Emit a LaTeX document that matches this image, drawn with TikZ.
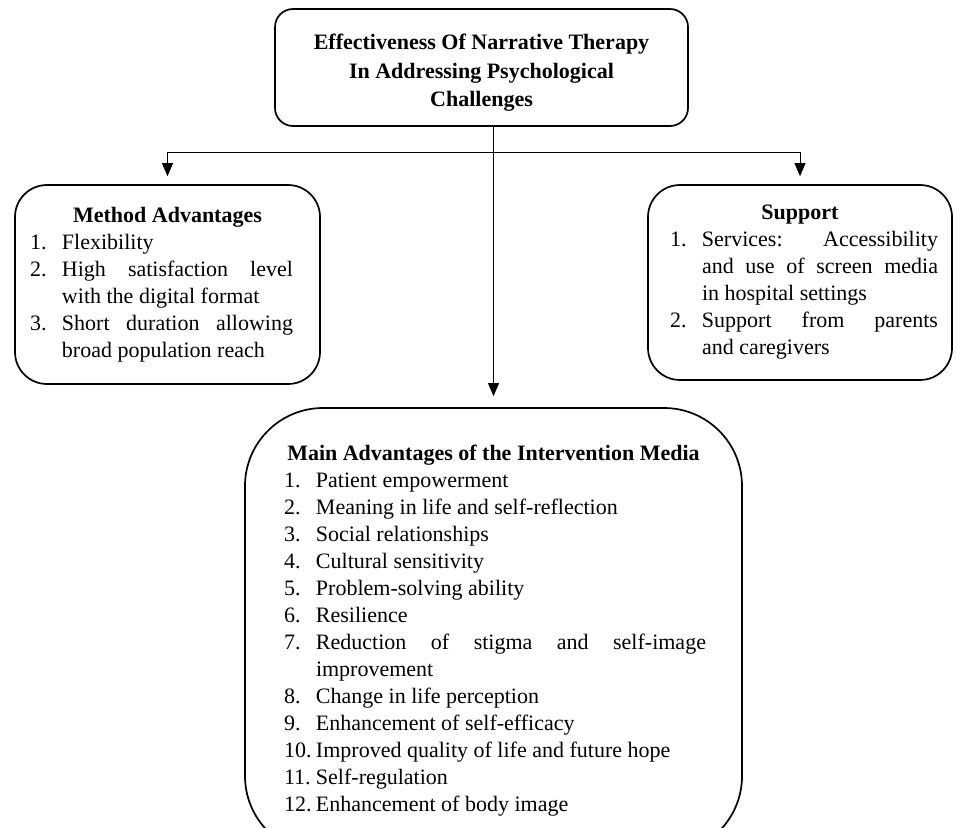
\documentclass[tikz,border=0pt]{standalone}
\usepackage{fontspec}
\setmainfont{Liberation Serif}
\usetikzlibrary{arrows.meta,positioning,calc}

\hyphenpenalty=10000
\exhyphenpenalty=10000
\tolerance=10000
\hbadness=10000

\newlength{\itemhang}\setlength{\itemhang}{32pt}
\newlength{\itemrskip}
\newcommand{\listhead}[1]{{\centering\spaceskip=0pt\xspaceskip=0pt\bfseries #1\par}}
\newcommand{\listentry}[2]{\par\noindent\hangindent=\itemhang\hangafter=1\leftskip=0pt\rightskip=\itemrskip
  \spaceskip=0pt\xspaceskip=0pt\parfillskip=0pt plus 1fil\makebox[\itemhang][l]{#1}#2\par}

\begin{document}
\begin{tikzpicture}[
  x=1pt, y=-1pt,
  box/.style={rectangle, draw, line width=1.7pt, inner sep=0pt},
  titlebox/.style={box, rounded corners=18pt, minimum width=413pt, minimum height=117pt, text height=83pt, align=center, font=\fontsize{22}{28.5}\selectfont\bfseries},
  listbox/.style={box, rounded corners=32pt, align=justify, font=\fontsize{22}{27}\selectfont, execute at begin node={\setlength{\itemrskip}{#1}}},
  arrow/.style={-{Triangle[length=13pt,width=11pt]}, line width=0.9pt, shorten >=8pt}
]
\useasboundingbox (0,0) rectangle (957,827);

\node[titlebox] (title) at (481.5,67.5) {Effectiveness Of Narrative Therapy\\In Addressing Psychological\\Challenges};

\node[listbox=12pt, minimum width=305pt, minimum height=199pt, text width=275pt] (method) at (167.5,284.5) {%
  \listhead{Method Advantages}
  \listentry{1.}{Flexibility}
  \listentry{2.}{High satisfaction level\linebreak with the digital format}
  \listentry{3.}{Short duration allowing\linebreak broad population reach}};

\node[listbox=-8pt, minimum width=304pt, minimum height=195pt, text width=260pt] (support) at (800,282.5) {%
  \listhead{Support}
  \listentry{1.}{Services: Accessibility\linebreak and use of screen media\linebreak in hospital settings}
  \listentry{2.}{Support from parents\linebreak and caregivers}};

\node[listbox=-3pt, rounded corners=78pt, minimum width=497pt, minimum height=446pt, text width=419pt] (media) at (493.5,631) {%
  \listhead{Main Advantages of the Intervention Media}
  \listentry{1.}{Patient empowerment}
  \listentry{2.}{Meaning in life and self-reflection}
  \listentry{3.}{Social relationships}
  \listentry{4.}{Cultural sensitivity}
  \listentry{5.}{Problem-solving ability}
  \listentry{6.}{Resilience}
  \listentry{7.}{Reduction of stigma and self-image\linebreak improvement}
  \listentry{8.}{Change in life perception}
  \listentry{9.}{Enhancement of self-efficacy}
  \listentry{10.}{Improved quality of life and future hope}
  \listentry{11.}{Self-regulation}
  \listentry{12.}{Enhancement of body image}};

% connectors
\coordinate (fork) at (media.north |- 0,152);
\draw[arrow, shorten >=11pt] (title.south -| media.north) -- (media.north);
\draw[arrow] (fork -| method.north) -- (method.north);
\draw[arrow] (fork -| method.north) -- (fork -| support.north) -- (support.north);

\end{tikzpicture}
\end{document}
